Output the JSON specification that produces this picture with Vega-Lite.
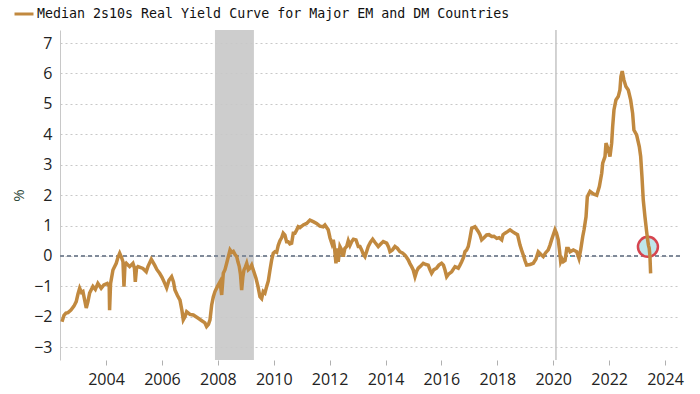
{
  "$schema": "https://vega.github.io/schema/vega-lite/v6.json",
  "width": 620,
  "height": 330,
  "autosize": {"type": "none"},
  "padding": {"left": 60, "top": 30, "right": 20, "bottom": 34},
  "background": "white",
  "config": {"view": {"stroke": null}, "font": "Open Sans"},
  "datasets": {
    "series": [
      {"date": "2002-06-05", "value": -2.16},
      {"date": "2002-07-01", "value": -1.95},
      {"date": "2002-07-27", "value": -1.88},
      {"date": "2002-08-22", "value": -1.86},
      {"date": "2002-09-30", "value": -1.78},
      {"date": "2002-11-08", "value": -1.65},
      {"date": "2002-12-08", "value": -1.5},
      {"date": "2002-12-31", "value": -1.25},
      {"date": "2003-01-22", "value": -1.06},
      {"date": "2003-02-15", "value": -1.2},
      {"date": "2003-03-06", "value": -1.17},
      {"date": "2003-04-18", "value": -1.71},
      {"date": "2003-05-10", "value": -1.5},
      {"date": "2003-06-01", "value": -1.22},
      {"date": "2003-07-14", "value": -1.0},
      {"date": "2003-08-15", "value": -1.1},
      {"date": "2003-09-17", "value": -0.9},
      {"date": "2003-10-30", "value": -1.06},
      {"date": "2003-12-04", "value": -0.95},
      {"date": "2004-01-17", "value": -0.9},
      {"date": "2004-02-12", "value": -1.0},
      {"date": "2004-02-17", "value": -1.78},
      {"date": "2004-03-01", "value": -0.9},
      {"date": "2004-04-01", "value": -0.46},
      {"date": "2004-05-14", "value": -0.24},
      {"date": "2004-06-05", "value": -0.05},
      {"date": "2004-06-28", "value": 0.09},
      {"date": "2004-07-22", "value": -0.05},
      {"date": "2004-08-10", "value": -0.19},
      {"date": "2004-08-23", "value": -1.01},
      {"date": "2004-09-05", "value": -0.3},
      {"date": "2004-09-22", "value": -0.24},
      {"date": "2004-11-05", "value": -0.35},
      {"date": "2004-12-18", "value": -0.24},
      {"date": "2005-01-07", "value": -0.4},
      {"date": "2005-01-18", "value": -0.85},
      {"date": "2005-02-03", "value": -0.4},
      {"date": "2005-02-22", "value": -0.35},
      {"date": "2005-04-28", "value": -0.41},
      {"date": "2005-06-10", "value": -0.52},
      {"date": "2005-07-02", "value": -0.35},
      {"date": "2005-08-15", "value": -0.11},
      {"date": "2005-09-28", "value": -0.3},
      {"date": "2005-10-28", "value": -0.45},
      {"date": "2005-12-02", "value": -0.57},
      {"date": "2006-01-02", "value": -0.7},
      {"date": "2006-02-07", "value": -0.9},
      {"date": "2006-03-04", "value": -1.05},
      {"date": "2006-04-03", "value": -0.8},
      {"date": "2006-05-08", "value": -0.68},
      {"date": "2006-06-01", "value": -0.85},
      {"date": "2006-06-20", "value": -1.12},
      {"date": "2006-07-23", "value": -1.3},
      {"date": "2006-08-25", "value": -1.45},
      {"date": "2006-09-20", "value": -1.8},
      {"date": "2006-10-07", "value": -2.1},
      {"date": "2006-10-29", "value": -2.0},
      {"date": "2006-11-20", "value": -1.83},
      {"date": "2007-01-02", "value": -1.92},
      {"date": "2007-02-15", "value": -1.94},
      {"date": "2007-03-22", "value": -2.0},
      {"date": "2007-04-21", "value": -2.05},
      {"date": "2007-06-01", "value": -2.12},
      {"date": "2007-07-17", "value": -2.2},
      {"date": "2007-08-08", "value": -2.32},
      {"date": "2007-09-01", "value": -2.25},
      {"date": "2007-09-21", "value": -2.1},
      {"date": "2007-10-13", "value": -1.61},
      {"date": "2007-11-03", "value": -1.35},
      {"date": "2007-11-25", "value": -1.17},
      {"date": "2007-12-28", "value": -1.0},
      {"date": "2008-01-30", "value": -0.85},
      {"date": "2008-02-21", "value": -1.28},
      {"date": "2008-03-13", "value": -0.57},
      {"date": "2008-04-04", "value": -0.45},
      {"date": "2008-04-26", "value": -0.24},
      {"date": "2008-05-20", "value": 0.0},
      {"date": "2008-06-09", "value": 0.2},
      {"date": "2008-07-01", "value": 0.12},
      {"date": "2008-07-22", "value": 0.15},
      {"date": "2008-08-13", "value": 0.05},
      {"date": "2008-09-04", "value": -0.02},
      {"date": "2008-09-21", "value": -0.2},
      {"date": "2008-10-08", "value": -0.35},
      {"date": "2008-10-23", "value": -0.6},
      {"date": "2008-11-08", "value": -1.12},
      {"date": "2008-11-23", "value": -0.7},
      {"date": "2008-12-08", "value": -0.46},
      {"date": "2008-12-28", "value": -0.35},
      {"date": "2009-01-13", "value": -0.24},
      {"date": "2009-02-03", "value": -0.45},
      {"date": "2009-02-25", "value": -0.4},
      {"date": "2009-03-19", "value": -0.3},
      {"date": "2009-04-09", "value": -0.46},
      {"date": "2009-05-14", "value": -0.73},
      {"date": "2009-06-09", "value": -1.0},
      {"date": "2009-07-05", "value": -1.34},
      {"date": "2009-07-27", "value": -1.4},
      {"date": "2009-08-17", "value": -1.17},
      {"date": "2009-09-08", "value": -1.22},
      {"date": "2009-10-01", "value": -1.0},
      {"date": "2009-10-22", "value": -0.82},
      {"date": "2009-11-13", "value": -0.46},
      {"date": "2009-12-05", "value": -0.13},
      {"date": "2009-12-26", "value": 0.09},
      {"date": "2010-01-17", "value": 0.14},
      {"date": "2010-02-08", "value": 0.12},
      {"date": "2010-03-01", "value": 0.35},
      {"date": "2010-03-23", "value": 0.5},
      {"date": "2010-04-14", "value": 0.6},
      {"date": "2010-05-05", "value": 0.75},
      {"date": "2010-05-27", "value": 0.69},
      {"date": "2010-06-18", "value": 0.47},
      {"date": "2010-07-09", "value": 0.47},
      {"date": "2010-07-31", "value": 0.4},
      {"date": "2010-08-23", "value": 0.42},
      {"date": "2010-09-13", "value": 0.75},
      {"date": "2010-10-05", "value": 0.75},
      {"date": "2010-10-27", "value": 0.85},
      {"date": "2010-11-17", "value": 0.96},
      {"date": "2010-12-09", "value": 0.93},
      {"date": "2011-01-22", "value": 1.02},
      {"date": "2011-03-07", "value": 1.07},
      {"date": "2011-04-19", "value": 1.18},
      {"date": "2011-06-01", "value": 1.13},
      {"date": "2011-07-15", "value": 1.07},
      {"date": "2011-08-27", "value": 0.98},
      {"date": "2011-10-09", "value": 0.96},
      {"date": "2011-11-01", "value": 1.02},
      {"date": "2011-12-14", "value": 0.86},
      {"date": "2012-01-06", "value": 0.6},
      {"date": "2012-02-01", "value": 0.4},
      {"date": "2012-02-18", "value": 0.53},
      {"date": "2012-03-04", "value": 0.3},
      {"date": "2012-03-24", "value": -0.24},
      {"date": "2012-04-06", "value": 0.25},
      {"date": "2012-04-23", "value": -0.19},
      {"date": "2012-05-15", "value": 0.31},
      {"date": "2012-06-06", "value": 0.2},
      {"date": "2012-06-27", "value": -0.02},
      {"date": "2012-07-19", "value": 0.25},
      {"date": "2012-08-11", "value": 0.31},
      {"date": "2012-09-01", "value": 0.5},
      {"date": "2012-09-23", "value": 0.35},
      {"date": "2012-10-15", "value": 0.47},
      {"date": "2012-11-08", "value": 0.55},
      {"date": "2012-12-11", "value": 0.53},
      {"date": "2013-01-10", "value": 0.31},
      {"date": "2013-02-01", "value": 0.31},
      {"date": "2013-02-23", "value": 0.2},
      {"date": "2013-03-18", "value": 0.05},
      {"date": "2013-04-07", "value": -0.02},
      {"date": "2013-04-29", "value": 0.15},
      {"date": "2013-05-20", "value": 0.31},
      {"date": "2013-06-18", "value": 0.45},
      {"date": "2013-07-17", "value": 0.55},
      {"date": "2013-08-15", "value": 0.45},
      {"date": "2013-09-28", "value": 0.31},
      {"date": "2013-11-02", "value": 0.4},
      {"date": "2013-12-02", "value": 0.47},
      {"date": "2014-01-16", "value": 0.42},
      {"date": "2014-02-09", "value": 0.3},
      {"date": "2014-02-28", "value": 0.14},
      {"date": "2014-04-01", "value": 0.2},
      {"date": "2014-05-04", "value": 0.31},
      {"date": "2014-06-05", "value": 0.25},
      {"date": "2014-07-08", "value": 0.14},
      {"date": "2014-08-10", "value": 0.1},
      {"date": "2014-09-12", "value": 0.03},
      {"date": "2014-10-04", "value": -0.05},
      {"date": "2014-10-25", "value": -0.13},
      {"date": "2014-11-16", "value": -0.25},
      {"date": "2014-12-08", "value": -0.35},
      {"date": "2014-12-29", "value": -0.46},
      {"date": "2015-01-21", "value": -0.68},
      {"date": "2015-02-12", "value": -0.5},
      {"date": "2015-03-05", "value": -0.4},
      {"date": "2015-03-27", "value": -0.35},
      {"date": "2015-05-09", "value": -0.24},
      {"date": "2015-06-13", "value": -0.28},
      {"date": "2015-07-13", "value": -0.3},
      {"date": "2015-08-04", "value": -0.45},
      {"date": "2015-08-26", "value": -0.57},
      {"date": "2015-09-25", "value": -0.45},
      {"date": "2015-10-30", "value": -0.4},
      {"date": "2015-11-29", "value": -0.3},
      {"date": "2016-01-04", "value": -0.24},
      {"date": "2016-01-28", "value": -0.3},
      {"date": "2016-02-17", "value": -0.46},
      {"date": "2016-03-10", "value": -0.68},
      {"date": "2016-04-03", "value": -0.6},
      {"date": "2016-05-14", "value": -0.52},
      {"date": "2016-06-27", "value": -0.35},
      {"date": "2016-08-09", "value": -0.4},
      {"date": "2016-08-31", "value": -0.3},
      {"date": "2016-09-22", "value": -0.19},
      {"date": "2016-10-16", "value": -0.05},
      {"date": "2016-11-04", "value": 0.14},
      {"date": "2016-11-26", "value": 0.2},
      {"date": "2016-12-17", "value": 0.31},
      {"date": "2017-01-09", "value": 0.6},
      {"date": "2017-01-31", "value": 0.91},
      {"date": "2017-03-15", "value": 0.96},
      {"date": "2017-04-28", "value": 0.8},
      {"date": "2017-05-19", "value": 0.7},
      {"date": "2017-06-10", "value": 0.53},
      {"date": "2017-07-10", "value": 0.6},
      {"date": "2017-08-14", "value": 0.69},
      {"date": "2017-09-14", "value": 0.7},
      {"date": "2017-10-19", "value": 0.64},
      {"date": "2017-11-18", "value": 0.65},
      {"date": "2017-12-24", "value": 0.58},
      {"date": "2018-01-23", "value": 0.6},
      {"date": "2018-02-27", "value": 0.53},
      {"date": "2018-03-16", "value": 0.7},
      {"date": "2018-04-11", "value": 0.75},
      {"date": "2018-05-14", "value": 0.8},
      {"date": "2018-06-16", "value": 0.86},
      {"date": "2018-07-18", "value": 0.8},
      {"date": "2018-08-20", "value": 0.75},
      {"date": "2018-09-22", "value": 0.7},
      {"date": "2018-10-24", "value": 0.36},
      {"date": "2018-11-13", "value": 0.2},
      {"date": "2018-12-06", "value": 0.03},
      {"date": "2018-12-28", "value": -0.15},
      {"date": "2019-01-19", "value": -0.3},
      {"date": "2019-03-04", "value": -0.28},
      {"date": "2019-04-16", "value": -0.24},
      {"date": "2019-05-21", "value": -0.1},
      {"date": "2019-06-20", "value": 0.14},
      {"date": "2019-07-25", "value": 0.05},
      {"date": "2019-08-24", "value": -0.02},
      {"date": "2019-09-22", "value": 0.1},
      {"date": "2019-10-28", "value": 0.2},
      {"date": "2019-11-19", "value": 0.35},
      {"date": "2019-12-11", "value": 0.53},
      {"date": "2020-01-02", "value": 0.7},
      {"date": "2020-01-24", "value": 0.86},
      {"date": "2020-02-13", "value": 0.75},
      {"date": "2020-03-07", "value": 0.53},
      {"date": "2020-03-23", "value": 0.2},
      {"date": "2020-04-08", "value": -0.19},
      {"date": "2020-04-25", "value": -0.1},
      {"date": "2020-05-12", "value": -0.19},
      {"date": "2020-06-04", "value": -0.15},
      {"date": "2020-06-26", "value": 0.25},
      {"date": "2020-07-17", "value": 0.25},
      {"date": "2020-08-08", "value": 0.14},
      {"date": "2020-09-20", "value": 0.2},
      {"date": "2020-11-03", "value": 0.14},
      {"date": "2020-12-03", "value": -0.08},
      {"date": "2020-12-25", "value": 0.2},
      {"date": "2021-01-21", "value": 0.64},
      {"date": "2021-02-07", "value": 0.86},
      {"date": "2021-03-05", "value": 1.29},
      {"date": "2021-03-22", "value": 1.95},
      {"date": "2021-04-26", "value": 2.12},
      {"date": "2021-06-08", "value": 2.04},
      {"date": "2021-07-23", "value": 2.0},
      {"date": "2021-08-26", "value": 2.28},
      {"date": "2021-09-26", "value": 2.72},
      {"date": "2021-10-09", "value": 3.05},
      {"date": "2021-11-08", "value": 3.27},
      {"date": "2021-11-21", "value": 3.71},
      {"date": "2021-12-21", "value": 3.49},
      {"date": "2022-01-12", "value": 3.27},
      {"date": "2022-02-03", "value": 3.71},
      {"date": "2022-02-16", "value": 4.25},
      {"date": "2022-03-05", "value": 4.8},
      {"date": "2022-03-31", "value": 5.13},
      {"date": "2022-04-30", "value": 5.24},
      {"date": "2022-05-22", "value": 5.46},
      {"date": "2022-06-04", "value": 5.9},
      {"date": "2022-06-21", "value": 6.08},
      {"date": "2022-07-13", "value": 5.79},
      {"date": "2022-08-08", "value": 5.57},
      {"date": "2022-09-08", "value": 5.46},
      {"date": "2022-10-09", "value": 5.13},
      {"date": "2022-11-04", "value": 4.69},
      {"date": "2022-11-21", "value": 4.14},
      {"date": "2022-12-26", "value": 3.98},
      {"date": "2023-01-30", "value": 3.6},
      {"date": "2023-02-17", "value": 3.27},
      {"date": "2023-03-06", "value": 2.61},
      {"date": "2023-03-23", "value": 1.84},
      {"date": "2023-04-14", "value": 1.29},
      {"date": "2023-05-06", "value": 0.8},
      {"date": "2023-05-19", "value": 0.53},
      {"date": "2023-05-30", "value": 0.35},
      {"date": "2023-06-09", "value": 0.25},
      {"date": "2023-06-18", "value": 0.0},
      {"date": "2023-06-27", "value": -0.57}
    ],
    "recession": [{"start": "2007-11-25", "end": "2009-04-17"}],
    "events": [{"date": "2020-02-06"}],
    "highlight": [{"date": "2023-05-23", "value": 0.3}]
  },
  "encoding": {
    "y": {
      "type": "quantitative",
      "scale": {"domain": [-3.42, 7.43], "nice": false, "zero": false},
      "axis": {
        "title": "%",
        "titleAngle": 270,
        "titleX": -42,
        "titleY": 165,
        "titleAlign": "center",
        "titleBaseline": "middle",
        "titleFontSize": 15,
        "titleFontWeight": "normal",
        "titleColor": "#2f4a3a",
        "values": [-3, -2, -1, 0, 1, 2, 3, 4, 5, 6, 7],
        "tickCount": 11,
        "labelOverlap": false,
        "grid": true,
        "gridDash": [2, 3],
        "gridColor": "#c8c8c8",
        "gridWidth": 1,
        "domain": true,
        "domainColor": "#c8c8c8",
        "ticks": false,
        "labelFontSize": 16,
        "labelColor": "#222222",
        "labelPadding": 8
      }
    }
  },
  "layer": [
    {
      "data": {"name": "recession"},
      "mark": {"type": "rect", "color": "#c8c8c8", "opacity": 0.9},
      "encoding": {
        "x": {"field": "start", "type": "temporal"},
        "x2": {"field": "end"},
        "y": null
      }
    },
    {
      "data": {"name": "events"},
      "mark": {"type": "rule", "color": "#c4c4c4", "strokeWidth": 1.5},
      "encoding": {
        "x": {"field": "date", "type": "temporal"},
        "y": null
      }
    },
    {
      "data": {"name": "series"},
      "mark": {"type": "rule", "color": "#7f8a9a", "strokeWidth": 1, "strokeDash": [4, 3]},
      "encoding": {"y": {"datum": 0, "type": "quantitative"}}
    },
    {
      "data": {"name": "highlight"},
      "mark": {"type": "point", "filled": true, "fill": "#bfe6ea", "stroke": "#d6454f", "strokeWidth": 2.5, "size": 400, "opacity": 1},
      "encoding": {
        "x": {"field": "date", "type": "temporal"},
        "y": {"field": "value", "type": "quantitative"}
      }
    },
    {
      "data": {"name": "series"},
      "mark": {"type": "line", "strokeWidth": 3.5, "strokeJoin": "miter"},
      "encoding": {
        "x": {
          "field": "date",
          "type": "temporal",
          "scale": {"domain": ["2002-05-10", "2024-07-15"]},
          "axis": {
            "title": null,
            "format": "%Y",
            "tickCount": {"interval": "year", "step": 2},
            "grid": false,
            "domain": false,
            "ticks": true,
            "tickSize": 5,
            "tickColor": "#b0b0b0",
            "labelFontSize": 16,
            "labelColor": "#222222",
            "labelPadding": 6,
            "labelFlush": false
          }
        },
        "y": {"field": "value", "type": "quantitative"},
        "color": {
          "datum": "Median 2s10s Real Yield Curve for Major EM and DM Countries",
          "scale": {"range": ["#c1893f"]},
          "legend": {
            "title": null,
            "orient": "none",
            "legendX": -47,
            "legendY": -27,
            "symbolType": "stroke",
            "symbolSize": 360,
            "symbolStrokeWidth": 3,
            "labelFont": "DejaVu Sans Mono",
            "labelFontSize": 13.3,
            "labelColor": "#111111",
            "labelOffset": 2,
            "labelLimit": 600
          }
        }
      }
    }
  ]
}
